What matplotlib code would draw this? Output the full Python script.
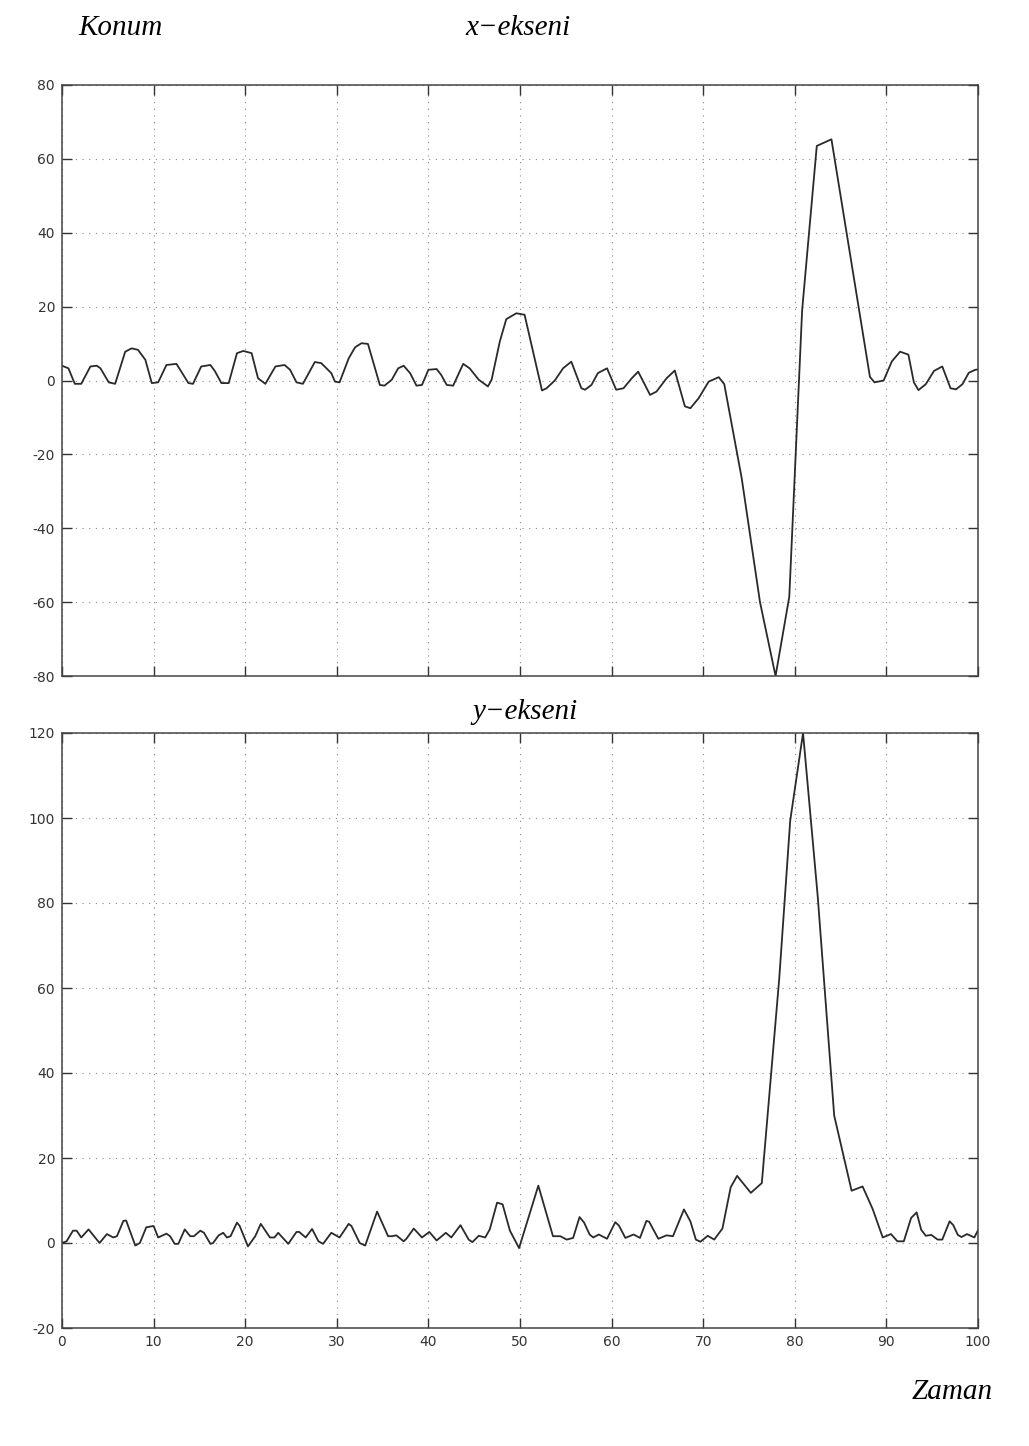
import numpy as np
import matplotlib.pyplot as plt

# x-ekseni
t_x = [0, 0.7, 1.4, 2.1, 3.1, 3.8, 4.2, 5.1, 5.8, 6.9,
       7.6, 8.3, 9.1, 9.8, 10.5, 11.4, 12.5, 13.8, 14.3, 15.2,
       16.2, 16.7, 17.4, 18.2, 19.1, 19.8, 20.7, 21.4, 22.2, 23.3,
       24.3, 24.9, 25.6, 26.3, 27.6, 28.3, 29.4, 29.8, 30.3, 31.3,
       32.0, 32.7, 33.4, 34.7, 35.2, 36.0, 36.7, 37.3, 38.0, 38.7,
       39.3, 40.0, 40.9, 41.4, 42.0, 42.7, 43.8, 44.5, 45.5, 46.5,
       46.9, 47.8, 48.5, 49.6, 50.5, 52.4, 52.9, 53.8, 54.7, 55.6,
       56.7, 57.1, 57.8, 58.5, 59.5, 60.5, 61.3, 62.2, 62.9, 64.2,
       64.9, 66.0, 66.9, 68.0, 68.6, 69.5, 70.6, 71.7, 72.3, 74.2,
       76.2, 77.9, 79.4, 80.8, 82.4, 84.0, 88.2, 88.7, 89.7, 90.6,
       91.5, 92.4, 93.0, 93.5, 94.3, 95.2, 96.1, 97.0, 97.6, 98.3,
       99.0, 99.7, 100]
pos_x = [4, 3.3, -0.9, -0.9, 3.8, 4, 3.3, -0.5, -0.9, 7.8,
         8.7, 8.3, 5.6, -0.7, -0.5, 4.2, 4.5, -0.7, -0.9, 3.8,
         4.2, 2.5, -0.7, -0.7, 7.4, 8, 7.4, 0.6, -0.9, 3.8,
         4.2, 2.9, -0.5, -0.9, 5, 4.7, 2, -0.3, -0.5, 6,
         9, 10.1, 9.9, -1.2, -1.4, 0.2, 3.3, 4, 2, -1.4,
         -1.2, 2.9, 3.1, 1.5, -1.2, -1.4, 4.5, 3.3, 0.2, -1.6,
         0.2, 10.6, 16.6, 18.2, 17.8, -2.7, -2.1, 0, 3.3, 5.1,
         -2.1, -2.5, -1.2, 2, 3.3, -2.5, -2.1, 0.6, 2.4, -3.9,
         -3, 0.6, 2.7, -7, -7.5, -4.8, -0.3, 0.9, -1, -26.4,
         -60, -80, -58.5, 19, 63.5, 65.3, 1, -0.5, 0, 5.2,
         7.8, 7, -0.5, -2.6, -1, 2.6, 3.8, -2.1, -2.4, -1,
         2.1, 2.9, 3]

# y-ekseni
t_y = [0, 0.5, 1.2, 1.6, 2.1, 2.9, 3.8, 4.1, 4.9, 5.6,
       6.0, 6.7, 7.0, 8.0, 8.5, 9.2, 10.0, 10.5, 11.4, 11.8,
       12.3, 12.7, 13.4, 14.0, 14.4, 15.1, 15.5, 16.2, 16.5, 17.1,
       17.6, 18.0, 18.4, 19.1, 19.4, 20.3, 21.1, 21.7, 22.7, 23.2,
       23.6, 24.7, 25.6, 25.9, 26.6, 27.3, 28.0, 28.5, 29.4, 30.3,
       31.3, 31.6, 32.5, 33.1, 34.4, 35.6, 36.0, 36.5, 37.3, 37.6,
       38.4, 39.3, 40.1, 40.9, 41.9, 42.5, 43.5, 44.4, 44.8, 45.5,
       46.2, 46.7, 47.5, 48.1, 48.9, 49.9, 52.0, 53.6, 54.4, 55.1,
       55.8, 56.5, 57.0, 57.6, 58.0, 58.6, 59.5, 60.4, 60.8, 61.5,
       62.4, 63.1, 63.8, 64.1, 65.1, 66.0, 66.7, 67.9, 68.6, 69.2,
       69.7, 70.5, 71.2, 72.1, 73.0, 73.7, 75.2, 76.4, 77.6, 78.3,
       79.5, 79.9, 80.9, 82.5, 84.3, 86.2, 87.4, 88.5, 89.6, 90.5,
       91.2, 91.9, 92.7, 93.3, 93.8, 94.3, 94.9, 95.6, 96.1, 96.9,
       97.3, 97.8, 98.2, 98.8, 99.6, 100]
pos_y = [0, 0.4, 2.9, 2.9, 1.3, 3.2, 0.8, 0, 2.1, 1.3,
         1.6, 5.2, 5.3, -0.6, 0, 3.7, 4, 1.3, 2.2, 1.6,
         -0.2, -0.2, 3.2, 1.6, 1.6, 2.9, 2.4, -0.2, 0, 1.8,
         2.4, 1.3, 1.6, 4.8, 4, -0.8, 1.6, 4.5, 1.3, 1.3,
         2.4, -0.2, 2.6, 2.6, 1.3, 3.3, 0.4, -0.2, 2.4, 1.3,
         4.5, 4, 0, -0.6, 7.4, 1.6, 1.6, 1.8, 0.4, 1.0,
         3.4, 1.3, 2.6, 0.6, 2.4, 1.3, 4.2, 0.8, 0.2, 1.7,
         1.3, 3.2, 9.5, 9.1, 2.9, -1.2, 13.5, 1.6, 1.6, 0.8,
         1.2, 6.1, 4.8, 2, 1.3, 2, 1, 4.9, 4.1, 1.2,
         2, 1.2, 5.2, 5, 1, 1.8, 1.6, 7.9, 5.1, 0.8,
         0.3, 1.7, 0.8, 3.4, 13.1, 15.8, 11.8, 14.1, 44.4, 62.2,
         99.4, 105.3, 120, 81.6, 30, 12.3, 13.3, 8, 1.3, 2.1,
         0.4, 0.4, 5.9, 7.2, 3.1, 1.7, 1.9, 0.8, 0.8, 5.1,
         4.2, 1.9, 1.4, 2.1, 1.3, 3]

plt.rcParams['font.family'] = ['Liberation Sans Narrow', 'DejaVu Sans']
plt.rcParams['axes.unicode_minus'] = False

fig = plt.figure(figsize=(10.29, 14.46), dpi=100)
ax1 = fig.add_axes([62/1029, 1 - 676/1446, 916/1029, 591/1446])
ax2 = fig.add_axes([62/1029, 1 - 1328/1446, 916/1029, 595/1446])


def style(ax, ylim, yticks, xlabels):
    ax.set_xlim(0, 100)
    ax.set_ylim(*ylim)
    ax.set_xticks(np.arange(0, 101, 10))
    ax.set_yticks(yticks)
    if not xlabels:
        ax.set_xticklabels([])
    ax.tick_params(direction='in', length=7, width=1, top=True, right=True,
                   labelsize=10, colors='#333333', pad=5)
    ax.grid(True, color='#888888', linestyle=(0, (1, 5)), linewidth=0.8)
    for s in ax.spines.values():
        s.set_color('#444444')
        s.set_linewidth(1.1)


ax1.plot(t_x, pos_x, color='#2a2a2a', linewidth=1.3)
style(ax1, (-80, 80), np.arange(-80, 81, 20), False)

ax2.plot(t_y, pos_y, color='#2a2a2a', linewidth=1.3)
style(ax2, (-20, 120), np.arange(-20, 121, 20), True)

tfont = dict(family=['Liberation Serif', 'DejaVu Serif'], style='italic',
             fontsize=21, color='black')
fig.text(78/1029, 1 - 28/1446, 'Konum', ha='left', va='center', **tfont)
fig.text(518/1029, 1 - 28/1446, 'x\u2212ekseni', ha='center', va='center', **tfont)
fig.text(525/1029, 1 - 712/1446, 'y\u2212ekseni', ha='center', va='center', **tfont)
fig.text(993/1029, 1 - 1392/1446, 'Zaman', ha='right', va='center', **tfont)

plt.savefig('out.png', dpi=100)
